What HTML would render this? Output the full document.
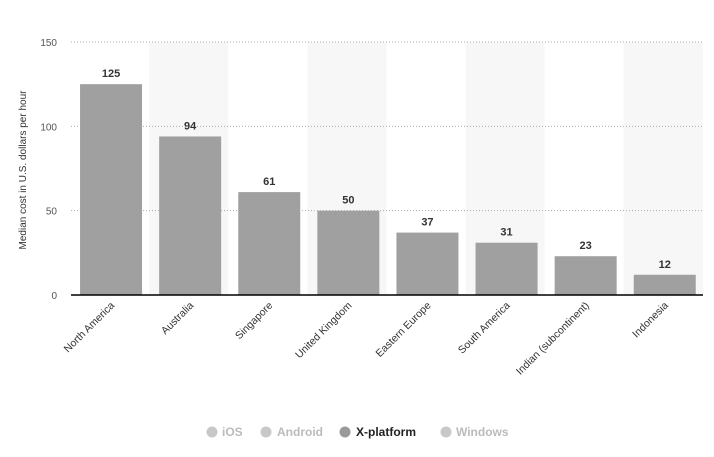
<!DOCTYPE html>
<html><head><meta charset="utf-8"><style>
body{margin:0;background:#fff;font-family:"Liberation Sans",sans-serif}
svg text{font-family:"Liberation Sans",sans-serif}
</style></head><body>
<svg width="714" height="452">
<rect x="0" y="0" width="714" height="452" fill="#fff"/>
<g id="bands"></g>
<g id="grid"></g>
<g id="bars"></g>
<line x1="71" y1="295" x2="703" y2="295" stroke="#000" stroke-width="1.5"/>
<text transform="translate(26,170) rotate(-90)" text-anchor="middle" font-size="10" fill="#333">Median cost in U.S. dollars per hour</text>
<g font-size="12" font-weight="bold">
<g><circle cx="212" cy="432" r="5.5" fill="#c8c8c8"/><text x="222" y="436" fill="#bbb">iOS</text></g>
<g><circle cx="266" cy="432" r="5.5" fill="#c8c8c8"/><text x="277" y="436" fill="#bbb">Android</text></g>
<g><circle cx="345" cy="432" r="5.5" fill="#9a9a9a"/><text x="356" y="436" fill="#222">X-platform</text></g>
<g><circle cx="446" cy="432" r="5.5" fill="#c8c8c8"/><text x="456" y="436" fill="#bbb">Windows</text></g>
</g>
</svg>
<script>
const categories=["North America","Australia","Singapore","United Kingdom","Eastern Europe","South America","Indian (subcontinent)","Indonesia"];
const values=[125,94,61,50,37,31,23,12];
const yTicks=[0,50,100,150];
const NS="http://www.w3.org/2000/svg";
const x0=70,bw=79.1,y0=295,yMax=150,ph=253;
const y=v=>y0-v/yMax*ph;
const bx=i=>x0+i*bw;
function mk(t,a,p,txt){const e=document.createElementNS(NS,t);for(const k in a)e.setAttribute(k,a[k]);if(txt!=null)e.textContent=txt;document.getElementById(p).appendChild(e);return e;}
categories.forEach((c,i)=>{if(i%2==1){const r=mk('rect',{x:bx(i),y:y(yMax),width:bw,height:ph,fill:'#f7f7f7'},'bands');

}});
yTicks.forEach(t=>{if(t>0){const l=mk('line',{x1:71,x2:703,y1:y(t),y2:y(t),stroke:'#aaa','stroke-dasharray':'1,2'},'grid');

}
const tx=mk('text',{x:57,y:y(t)+4,'text-anchor':'end','font-size':10,fill:'#555'},'grid',t);

});
categories.forEach((c,i)=>{const v=values[i];const cx=bx(i)+bw/2+1.5;
const r=mk('rect',{x:cx-31,y:y(v),width:62,height:y0-y(v),fill:'#a0a0a0'},'bars');


const lb=mk('text',{x:cx,y:y(v)-7,'text-anchor':'middle','font-size':11,'font-weight':'bold',fill:'#333'},'bars',v);


const xl=mk('text',{transform:`translate(${cx+4},${306}) rotate(-45)`,'text-anchor':'end','font-size':10.5,fill:'#333'},'bars',c);

});
</script>
</body></html>
